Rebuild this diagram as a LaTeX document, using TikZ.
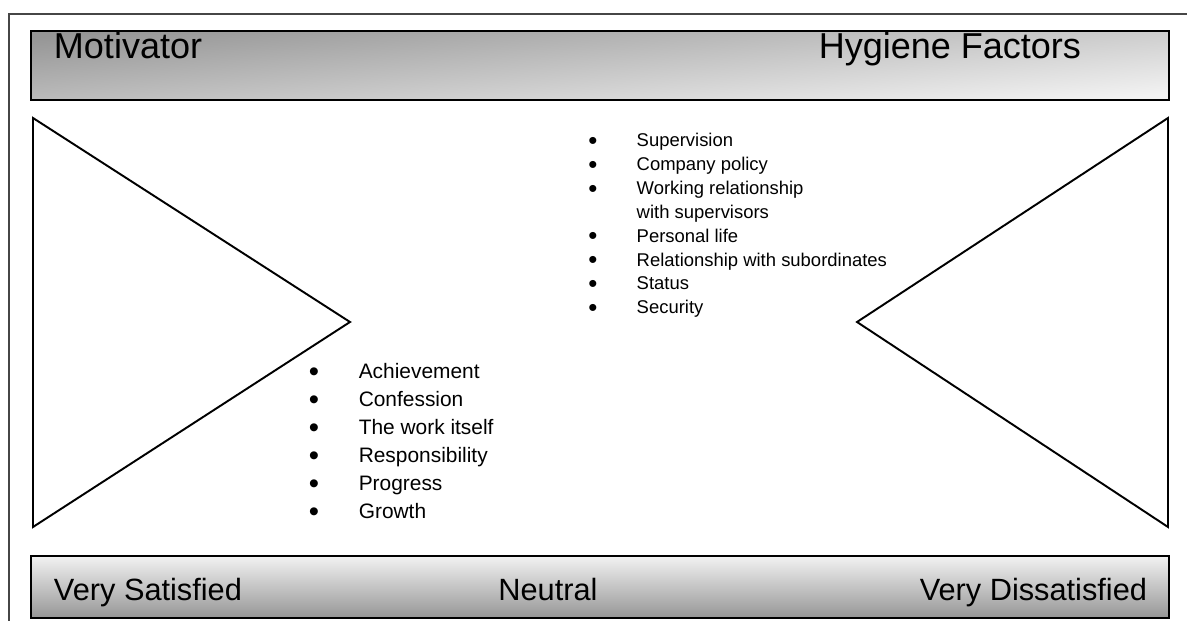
\documentclass[tikz,border=0pt]{standalone}
\usepackage{fontspec}
\setmainfont{Liberation Sans}
\usepackage{array}
\usetikzlibrary{calc}

\definecolor{barDark}{RGB}{150,150,150}
\definecolor{barLight}{RGB}{242,242,242}
\definecolor{frameGray}{RGB}{70,70,70}

\newcommand{\itemdot}{\makebox[0pt]{\raisebox{-0.13em}{\scalebox{1.4}{\textbullet}}}}

\begin{document}
\begin{tikzpicture}[x=0.02cm, y=-0.02cm, line width=1.1pt,
    bigLabel/.style={inner sep=0pt, font=\fontsize{20.5}{24}\selectfont},
    scaleLabel/.style={inner sep=0pt, font=\fontsize{17.5}{21}\selectfont},
    factorList/.style={anchor=base west, inner sep=0pt}]
            \useasboundingbox (0,0) rectangle (1187,621);

            % outer frame (only top and left edges show)
            \draw[frameGray, line width=0.7pt] (1187,14) -- (9,14) -- (9,621);

            % header bar
            \coordinate (H1) at (31,31);
            \coordinate (H2) at (1169,100);
            \draw[top color=barDark, bottom color=barLight, shading angle=5] (H1) rectangle (H2);
            \node[bigLabel, anchor=base west] (motivator) at (53,59) {Motivator};
            \node[bigLabel, anchor=base east] (hygiene) at (1082,59) {Hygiene Factors};

            % left triangle
            \coordinate (L1) at (33,118);
            \coordinate (L2) at (33,527);
            \coordinate (L3) at (350,322);
            \draw (L1) -- (L3) -- (L2) -- cycle;

            % right triangle
            \coordinate (R1) at (1168,118);
            \coordinate (R2) at (1168,527);
            \coordinate (R3) at (857,322);
            \draw (R1) -- (R3) -- (R2) -- cycle;

            % hygiene factors
            \node[factorList, font=\fontsize{10.5}{13.55}\selectfont] (hygList) at (592,147)
                {\begin{tabular}[t]{@{}p{24.9pt}@{}l@{}}
                 \itemdot & Supervision\\
                 \itemdot & Company policy\\
                 \itemdot & Working relationship\\
                          & with supervisors\\
                 \itemdot & Personal life\\
                 \itemdot & Relationship with subordinates\\
                 \itemdot & Status\\
                 \itemdot & Security
                 \end{tabular}};

            % motivators
            \node[factorList, font=\fontsize{11.9}{15.87}\selectfont] (motList) at (313,379)
                {\begin{tabular}[t]{@{}p{25.5pt}@{}l@{}}
                 \itemdot & Achievement\\
                 \itemdot & Confession\\
                 \itemdot & The work itself\\
                 \itemdot & Responsibility\\
                 \itemdot & Progress\\
                 \itemdot & Growth
                 \end{tabular}};

            % satisfaction scale
            \coordinate (S1) at (31,556);
            \coordinate (S2) at (1169,618);
            \draw[top color=barLight, bottom color=barDark] (S1) rectangle (S2);
            \node[scaleLabel, anchor=base west] (satisfied) at (53,600) {Very Satisfied};
            \node[scaleLabel, anchor=base] (neutral) at (548,600) {Neutral};
            \node[scaleLabel, anchor=base east] (dissatisfied) at (1148,600) {Very Dissatisfied};
        \end{tikzpicture}
\end{document}
